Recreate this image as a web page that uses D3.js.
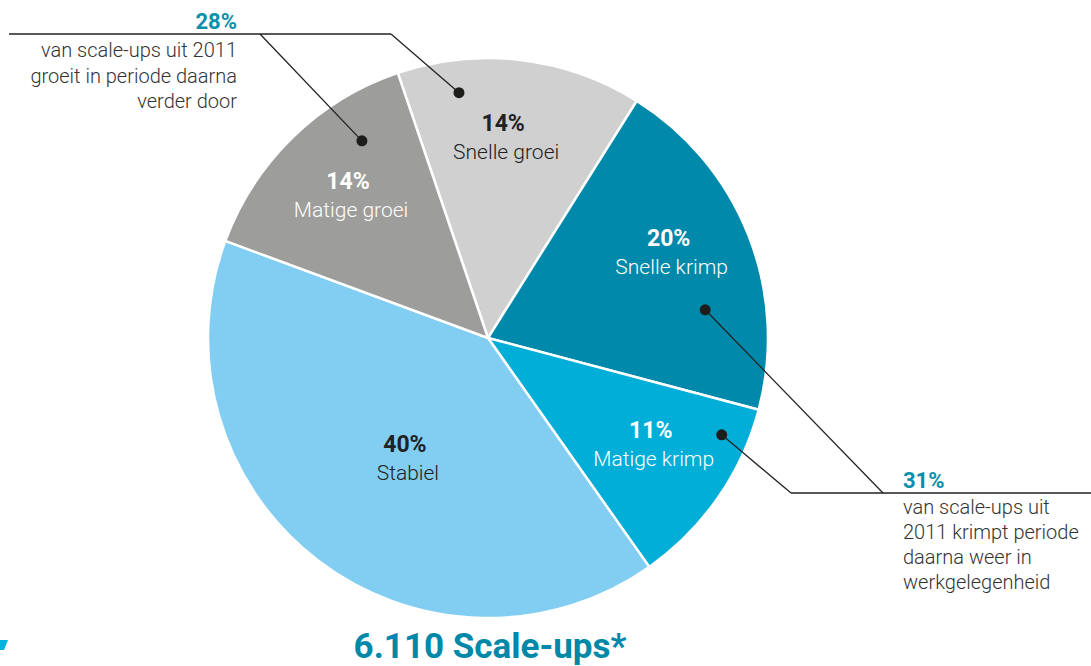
<!DOCTYPE html>
<meta charset="utf-8">
<script src="https://d3js.org/d3.v7.min.js"></script>
<style>
body { margin: 0; background: #fff; }
svg text { font-family: Roboto, "Open Sans", sans-serif; }
.pct { font-weight: 700; font-size: 23px; }
.name { font-weight: 300; font-size: 21px; }
.note { font-weight: 300; font-size: 20px; fill: #333; }
.notePct { font-weight: 700; font-size: 22px; fill: #0a8fac; }
.title { font-weight: 700; font-size: 35px; fill: #0088a8; }
</style>
<body></body>
<script>

// slice data, clockwise from the top
var categories = ['Snelle groei', 'Snelle krimp', 'Matige krimp', 'Stabiel', 'Matige groei'];
var values = [14, 20, 11, 40, 14];
var pctLabels = ['14%', '20%', '11%', '40%', '14%'];
var colors = ['#d0d0d0', '#0089aa', '#00aed8', '#81cef2', '#9d9d9b'];
var textColors = ['#222', '#fff', '#fff', '#222', '#fff'];

// annotations
var growText = ['van scale-ups uit 2011', 'groeit in periode daarna', 'verder door'];
var shrinkText = ['van scale-ups uit', '2011 krimpt periode', 'daarna weer in', 'werkgelegenheid'];

var width = 1091, height = 666;
var cx = 488, cy = 338, radius = 280;
var startAngle = -18.8 * Math.PI / 180;

var svg = d3.select('body').append('svg')
    .attr('width', width)
    .attr('height', height);

var pie = d3.pie()
    .sort(null)
    .value(function(d) { return d; })
    .startAngle(startAngle)
    .endAngle(startAngle + 2 * Math.PI);

var arcs = pie(values);

var arc = d3.arc().innerRadius(0).outerRadius(radius);

var g = svg.append('g')
    .attr('transform', 'translate(' + cx + ',' + cy + ')');

g.selectAll('.slice')
  .data(arcs)
  .enter().append('path')
    .attr('class', 'slice')
    .attr('d', arc)
    .style('fill', function(d, i) { return colors[i]; })
    .style('stroke', '#fff')
    .style('stroke-width', 2.5);

// polar helper, angle in degrees clockwise from the top
function polar(angleDeg, r) {
  var a = angleDeg * Math.PI / 180;
  return [cx + r * Math.sin(a), cy - r * Math.cos(a)];
}

// label placement inside each slice (angle, radius)
var labelPos = [[4.3, 202], [64.6, 200], [123, 194], [214.7, 146], [-44.4, 200]];

var labels = svg.selectAll('.label')
  .data(arcs)
  .enter().append('g')
    .attr('class', 'label')
    .attr('transform', function(d, i) {
      var c = polar(labelPos[i][0], labelPos[i][1]);
      return 'translate(' + c[0] + ',' + c[1] + ')';
    });

labels.append('text')
    .attr('class', 'pct')
    .attr('text-anchor', 'middle')
    .attr('y', -6)
    .style('fill', function(d, i) { return textColors[i]; })
    .text(function(d, i) { return pctLabels[i]; });

labels.append('text')
    .attr('class', 'name')
    .attr('text-anchor', 'middle')
    .attr('x', 3)
    .attr('y', 22)
    .style('fill', function(d, i) { return textColors[i]; })
    .text(function(d, i) { return categories[i]; });

// leader lines: dot inside slice, then up/down to the horizontal rule
var leaders = [
  { dot: polar(-6.75, 247), bend: [391, 34] },
  { dot: polar(-32.6, 234), bend: [260, 34] },
  { dot: polar(82.6, 219), bend: [883, 493] },
  { dot: polar(112.5, 253), bend: [791, 493] }
];

var lineGen = d3.line();

svg.selectAll('.leader')
  .data(leaders)
  .enter().append('path')
    .attr('class', 'leader')
    .attr('d', function(d) { return lineGen([d.dot, d.bend]); })
    .style('fill', 'none')
    .style('stroke', '#222')
    .style('stroke-width', 1.3);

svg.selectAll('.dot')
  .data(leaders)
  .enter().append('circle')
    .attr('class', 'dot')
    .attr('cx', function(d) { return d.dot[0]; })
    .attr('cy', function(d) { return d.dot[1]; })
    .attr('r', 5.5)
    .style('fill', '#1d1d1b');

// horizontal rules
svg.append('line')
    .attr('x1', 9).attr('x2', 391).attr('y1', 34).attr('y2', 34)
    .style('stroke', '#222').style('stroke-width', 1.3);

svg.append('line')
    .attr('x1', 791).attr('x2', 1091).attr('y1', 493).attr('y2', 493)
    .style('stroke', '#222').style('stroke-width', 1.3);

// left annotation
svg.append('text')
    .attr('class', 'notePct')
    .attr('x', 237).attr('y', 29)
    .attr('text-anchor', 'end')
    .text('28%');

svg.append('text')
    .attr('class', 'note')
    .attr('text-anchor', 'end')
    .selectAll('tspan')
    .data(growText)
    .enter().append('tspan')
      .attr('x', 237)
      .attr('y', function(d, i) { return 57 + i * 25.5; })
      .text(function(d) { return d; });

// right annotation
svg.append('text')
    .attr('class', 'notePct')
    .attr('x', 903).attr('y', 488)
    .text('31%');

svg.append('text')
    .attr('class', 'note')
    .selectAll('tspan')
    .data(shrinkText)
    .enter().append('tspan')
      .attr('x', 903)
      .attr('y', function(d, i) { return 514 + i * 25; })
      .text(function(d) { return d; });

// title
svg.append('text')
    .attr('class', 'title')
    .attr('x', 490).attr('y', 658)
    .attr('text-anchor', 'middle')
    .text('6.110 Scale-ups*');

// bit of logo at the bottom left edge
svg.append('path')
    .attr('d', 'M0,640 L8,640 L4,650 L0,650 Z')
    .style('fill', '#00b2dc');

</script>
